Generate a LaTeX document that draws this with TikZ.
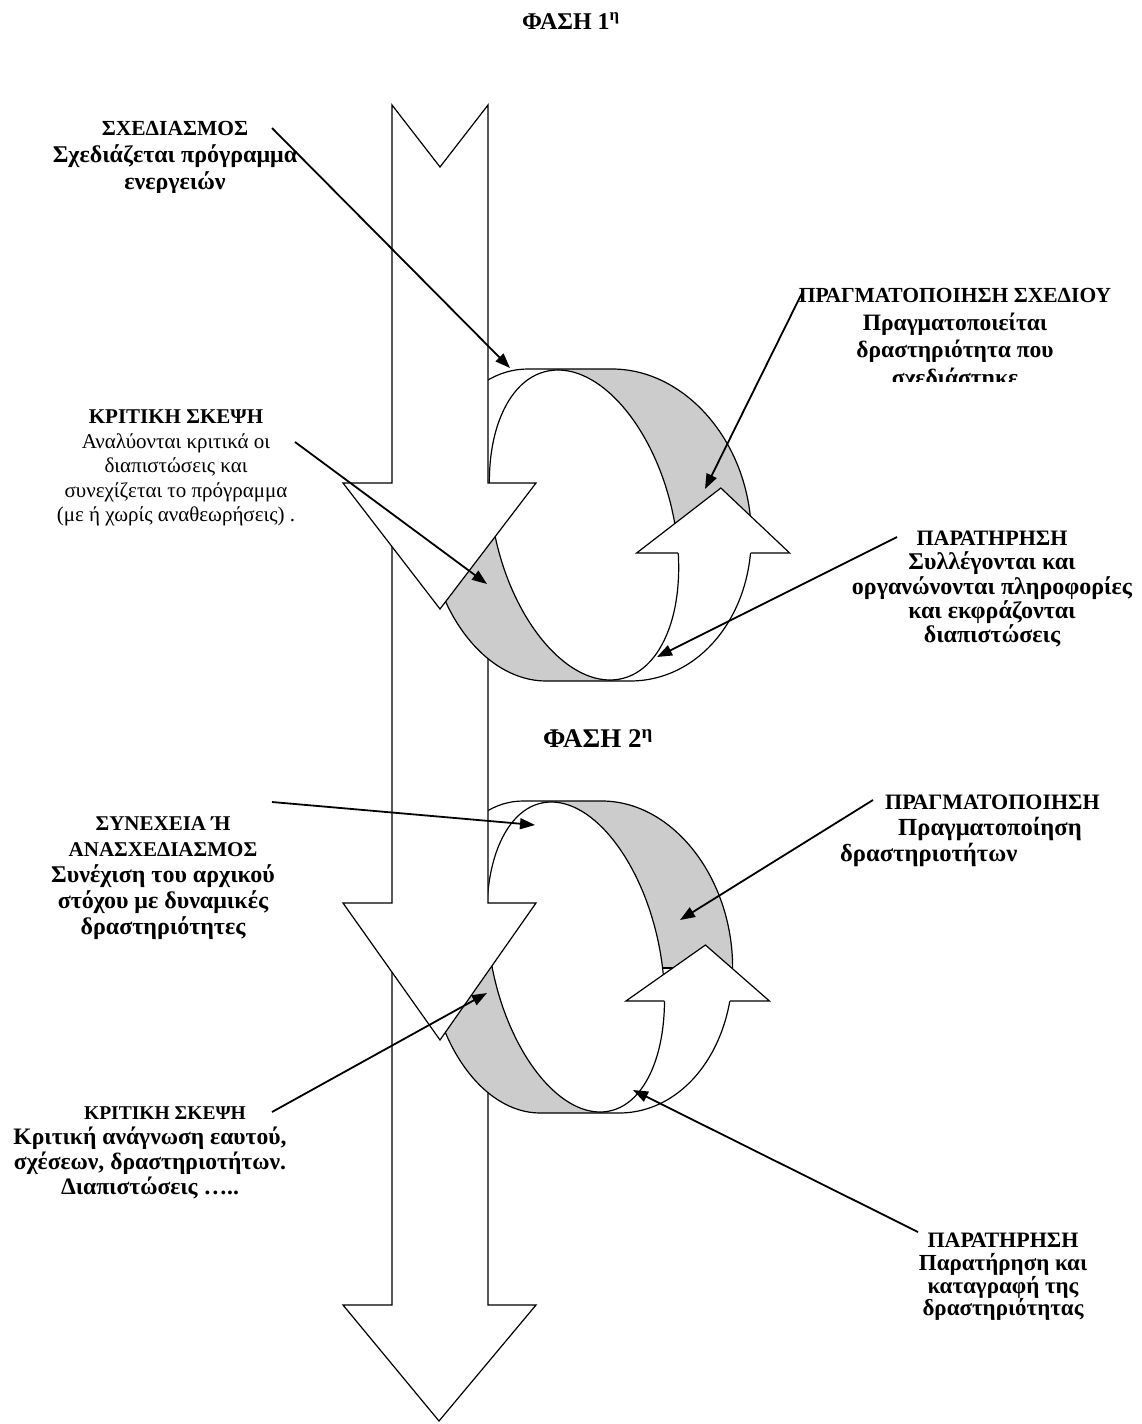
\documentclass[tikz,border=0pt]{standalone}
\usepackage{fontspec}
\setmainfont{Liberation Serif}
\usetikzlibrary{positioning,arrows.meta}

\tikzset{%
	blockarrow/.style = {draw, fill=white, line width=1.2pt},
	band/.style       = {fill=black!20},
	notetext/.style   = {align=center, inner sep=0pt, anchor=north,
		font=\bfseries\fontsize{24}{26}\selectfont},
	pointer/.style    = {-{Triangle[length=15pt,width=11pt]}, line width=1.8pt}
}
% heading line of a text block, a little smaller than the rest
\newcommand{\hd}[2][21.5]{{\fontsize{#1}{#1}\selectfont #2}}

% one loop of the cycle: #1 centre, #2 x scale, #3 base and #4 tip of the small head, #5 end of the grey band
\newcommand{\phasering}[5]{%
	\begin{scope}[shift={#1}, xscale=#2, xslant=-0.058, line width=1.2pt]
		\fill[white] (-42,-156) -- (42,-156) arc[start angle=-90, end angle=90, x radius=130, y radius=156]
			-- (-42,156) arc[start angle=90, end angle=270, x radius=110, y radius=156] -- cycle;
		\begin{scope}
			\clip (-42,-156) -- (42,-156) arc[start angle=-90, end angle=90, x radius=130, y radius=156]
				-- (-42,156) arc[start angle=90, end angle=270, x radius=110, y radius=156] -- cycle;
			\fill[band] (-22,-170) rectangle (260,#5);
			\fill[band] (-260,-35) rectangle (30,170);
			\draw (60,#5) -- (220,#5);
		\end{scope}
		\filldraw[fill=white, xslant=-0.11] (5,0) ellipse[x radius=91, y radius=155];
		\draw (-42,-156) -- (42,-156) arc[start angle=-90, end angle=90, x radius=130, y radius=156]
			-- (-42,156) arc[start angle=90, end angle=270, x radius=110, y radius=156] -- cycle;
		\fill[white] (56,#3) -- (144,#4) -- (209,#3) -- cycle;
		\draw ({5+91*sqrt(1-(#3/155)^2)+0.11*#3},#3) -- (56,#3) -- (144,#4) -- (209,#3)
			-- ({42+130*sqrt(1-(#3/156)^2)},#3);
	\end{scope}}

\begin{document}
\begin{tikzpicture}[x=1pt, y=-1pt]
	\useasboundingbox (0,0) rectangle (1141,1424);

	% the long arrow, in three pieces, with the two loops between them
	\filldraw[blockarrow] (392,960) -- (488,960) -- (488,1305) -- (536,1305) -- (439,1421)
		-- (343,1305) -- (392,1305) -- cycle;
	\phasering{(571,957)}{0.938}{44}{-12}{11}
	\filldraw[blockarrow] (392,540) -- (488,540) -- (488,903) -- (536,903) -- (440,1040)
		-- (343,903) -- (392,903) -- cycle;
	\phasering{(579,525)}{1}{28}{-37}{2}
	\filldraw[blockarrow] (392,105) -- (440,167) -- (488,105) -- (488,483) -- (536,483) -- (440,609)
		-- (343,483) -- (392,483) -- cycle;

	% texts
	\node[notetext, font=\bfseries\fontsize{24}{26}\selectfont] (phase1) at (571,12) {ΦΑΣΗ 1\textsuperscript{η}};
	\node[notetext, font=\bfseries\fontsize{27}{30}\selectfont] (phase2) at (598,729) {ΦΑΣΗ 2\textsuperscript{η}};

	\begin{scope}
		\clip (0,100) rectangle (340,192);
		\node[notetext, font=\bfseries\fontsize{24}{27}\selectfont] (plan) at (175,121)
			{\hd{ΣΧΕΔΙΑΣΜΟΣ}\\Σχεδιάζεται πρόγραμμα\\ενεργειών};
	\end{scope}
	\node[notetext, font=\fontsize{21}{24.5}\selectfont] (critic1) at (176,410)
		{\textbf{ΚΡΙΤΙΚΗ ΣΚΕΨΗ}\\Αναλύονται κριτικά οι\\διαπιστώσεις και\\συνεχίζεται το πρόγραμμα\\(με ή χωρίς αναθεωρήσεις) .};
	\begin{scope}
		\clip (700,270) rectangle (1141,381);
		\node[notetext, font=\bfseries\fontsize{23.5}{27.7}\selectfont] (act1) at (955,288)
			{\hd{ΠΡΑΓΜΑΤΟΠΟΙΗΣΗ ΣΧΕΔΙΟΥ}\\Πραγματοποιείται\\δραστηριότητα που\\σχεδιάστηκε};
	\end{scope}
	\node[notetext, font=\bfseries\fontsize{24}{24.2}\selectfont] (watch1) at (992,531)
		{\hd[22]{ΠΑΡΑΤΗΡΗΣΗ}\\Συλλέγονται και\\οργανώνονται πληροφορίες\\και εκφράζονται\\διαπιστώσεις};
	\node[notetext, font=\bfseries\fontsize{24}{26}\selectfont] (replan) at (163,816)
		{\hd[21]{ΣΥΝΕΧΕΙΑ Ή}\\\hd[21]{ΑΝΑΣΧΕΔΙΑΣΜΟΣ}\\Συνέχιση του αρχικού\\στόχου με δυναμικές\\δραστηριότητες};
	\node[notetext, anchor=north west, align=left, font=\bfseries\fontsize{24.6}{26}\selectfont] (act2) at (840,795)
		{\hspace*{45pt}\hd[22]{ΠΡΑΓΜΑΤΟΠΟΙΗΣΗ}\\\hspace*{58pt}Πραγματοποίηση\\δραστηριοτήτων};
	\node[notetext, font=\bfseries\fontsize{23.6}{25}\selectfont] (critic2) at (150,1107)
		{\hspace*{30pt}\hd[19.5]{ΚΡΙΤΙΚΗ ΣΚΕΨΗ}\\Κριτική ανάγνωση εαυτού,\\σχέσεων, δραστηριοτήτων.\\Διαπιστώσεις …..};
	\node[notetext, font=\bfseries\fontsize{23}{22.7}\selectfont] (watch2) at (1003,1233)
		{\hd[22]{ΠΑΡΑΤΗΡΗΣΗ}\\Παρατήρηση και\\καταγραφή της\\δραστηριότητας};

	% ends of the pointers
	\coordinate (plan-from)    at (272,128);  \coordinate (plan-to)    at (510,368);
	\coordinate (critic1-from) at (295,442);  \coordinate (critic1-to) at (487,584);
	\coordinate (act1-from)    at (802,293);  \coordinate (act1-to)    at (705,489);
	\coordinate (watch1-from)  at (897,537);  \coordinate (watch1-to)  at (657,657);
	\coordinate (replan-from)  at (272,802);  \coordinate (replan-to)  at (535,825);
	\coordinate (critic2-from) at (272,1112); \coordinate (critic2-to) at (487,993);
	\coordinate (act2-from)    at (873,800);  \coordinate (act2-to)    at (680,920);
	\coordinate (watch2-from)  at (918,1232); \coordinate (watch2-to)  at (633,1090);

	\draw[pointer] (plan-from) -- (plan-to);
	\draw[pointer] (critic1-from) -- (critic1-to);
	\draw[pointer] (act1-from) -- (act1-to);
	\draw[pointer] (watch1-from) -- (watch1-to);
	\draw[pointer] (replan-from) -- (replan-to);
	\draw[pointer] (critic2-from) -- (critic2-to);
	\draw[pointer] (act2-from) -- (act2-to);
	\draw[pointer] (watch2-from) -- (watch2-to);
\end{tikzpicture}
\end{document}
